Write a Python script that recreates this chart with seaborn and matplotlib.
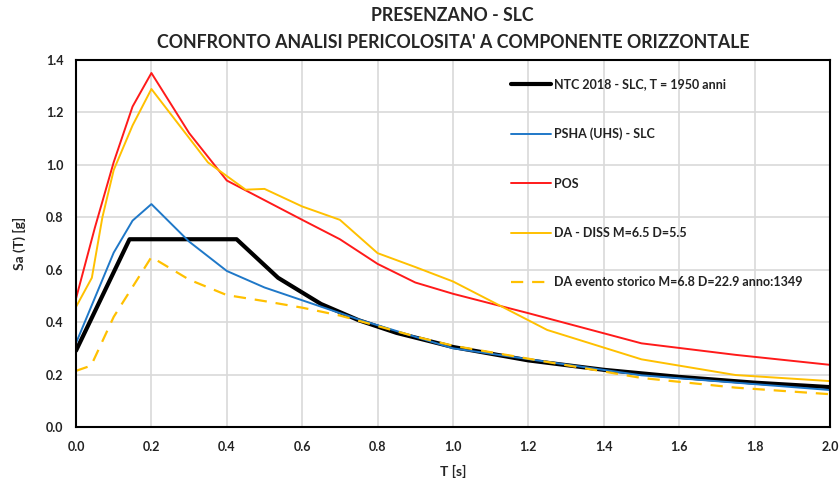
import matplotlib
matplotlib.use("Agg")
import matplotlib.pyplot as plt
import seaborn as sns
import pandas as pd

# Spectral ordinates: period T [s] and spectral acceleration Sa [g]
ntc_T = [0.0, 0.142, 0.426, 0.536, 0.65, 0.75, 0.85, 1.0, 1.2, 1.4, 1.6, 1.8, 2.0]
ntc_Sa = [0.291, 0.716, 0.716, 0.569, 0.469, 0.407, 0.359, 0.305, 0.254, 0.218, 0.191, 0.169, 0.152]

psha_T = [0.0, 0.1, 0.15, 0.2, 0.3, 0.4, 0.5, 0.75, 1.0, 1.5, 2.0]
psha_Sa = [0.32, 0.665, 0.787, 0.85, 0.707, 0.595, 0.532, 0.41, 0.30, 0.197, 0.141]

pos_T = [0.0, 0.05, 0.1, 0.15, 0.2, 0.3, 0.4, 0.5, 0.6, 0.7, 0.8, 0.9, 1.0, 1.2, 1.5, 1.75, 2.0]
pos_Sa = [0.49, 0.76, 1.01, 1.222, 1.35, 1.121, 0.94, 0.865, 0.79, 0.716, 0.622, 0.551, 0.508, 0.434, 0.319, 0.275, 0.237]

diss_T = [0.0, 0.042, 0.07, 0.1, 0.15, 0.2, 0.35, 0.45, 0.5, 0.6, 0.7, 0.8, 0.9, 1.0, 1.25, 1.5, 1.75, 2.0]
diss_Sa = [0.458, 0.569, 0.80, 0.98, 1.15, 1.289, 1.009, 0.905, 0.908, 0.841, 0.79, 0.663, 0.61, 0.555, 0.37, 0.258, 0.198, 0.175]

stor_T = [0.0, 0.04, 0.1, 0.2, 0.3, 0.4, 0.5, 0.6, 0.7, 0.8, 0.9, 1.0, 1.25, 1.5, 1.75, 2.0]
stor_Sa = [0.214, 0.234, 0.42, 0.648, 0.562, 0.503, 0.48, 0.455, 0.425, 0.385, 0.345, 0.31, 0.248, 0.187, 0.15, 0.125]

labels = [
    "NTC 2018 - SLC, T = 1950 anni",
    "PSHA (UHS) - SLC",
    "POS",
    "DA - DISS M=6.5 D=5.5",
    "DA evento storico M=6.8 D=22.9 anno:1349",
]

title_lines = ["PRESENZANO - SLC", "CONFRONTO ANALISI PERICOLOSITA' A COMPONENTE ORIZZONTALE"]

series = [(ntc_T, ntc_Sa), (psha_T, psha_Sa), (pos_T, pos_Sa), (diss_T, diss_Sa), (stor_T, stor_Sa)]
frames = [pd.DataFrame({"T": t, "Sa": s, "serie": lab}) for (t, s), lab in zip(series, labels)]
df = pd.concat(frames, ignore_index=True)

styles = {
    labels[0]: dict(color="#000000", lw=3.0, ls="-"),
    labels[1]: dict(color="#1F78C8", lw=1.4, ls="-"),
    labels[2]: dict(color="#FF1A1A", lw=1.4, ls="-"),
    labels[3]: dict(color="#FFC000", lw=1.4, ls="-"),
    labels[4]: dict(color="#FFC000", lw=1.6, ls=(0, (5.5, 4))),
}

sns.set_style("white")
plt.rcParams["font.family"] = ["Lato", "DejaVu Sans"]

fig = plt.figure(figsize=(8.4, 4.83), dpi=100)
ax = fig.add_axes([0.0905, 0.116, 0.8975, 0.76])

for lab in labels:
    st = styles[lab]
    sub = df[df["serie"] == lab]
    sns.lineplot(data=sub, x="T", y="Sa", ax=ax, sort=False, estimator=None,
                 color=st["color"], linewidth=st["lw"], linestyle=st["ls"], label=lab)

ax.set_xlim(0, 2.0)
ax.set_ylim(0, 1.4)
ax.set_xticks([i * 0.2 for i in range(11)])
ax.set_yticks([i * 0.2 for i in range(8)])
ax.set_xticklabels([f"{i * 0.2:.1f}" for i in range(11)])
ax.set_yticklabels([f"{i * 0.2:.1f}" for i in range(8)])
ax.grid(True, color="#d9d9d9", linewidth=1.2)
ax.set_axisbelow(True)
for sp in ax.spines.values():
    sp.set_color("#000000")
    sp.set_linewidth(1.5)
ax.tick_params(axis="both", length=0, labelsize=9, labelcolor="#222222")
ax.tick_params(axis="x", pad=10)
ax.tick_params(axis="y", pad=9)
for t in ax.get_xticklabels() + ax.get_yticklabels():
    t.set_fontweight("bold")

ax.set_xlabel("T [s]", fontsize=10, fontweight="bold", labelpad=9)
ax.set_ylabel("Sa (T) [g]", fontsize=10, fontweight="bold", labelpad=14)

fig.text(0.539, 0.967, title_lines[0], ha="center", va="center", fontsize=12.8, fontweight="bold")
fig.text(0.539, 0.913, title_lines[1], ha="center", va="center", fontsize=12.8, fontweight="bold")

leg = ax.legend(loc="upper left", bbox_to_anchor=(0.562, 0.98), frameon=False,
                fontsize=9, handlelength=3.2, handletextpad=0.25, labelspacing=2.98)
for txt in leg.get_texts():
    txt.set_fontweight("bold")
    txt.set_color("#222222")

fig.savefig("out.png", dpi=100)
